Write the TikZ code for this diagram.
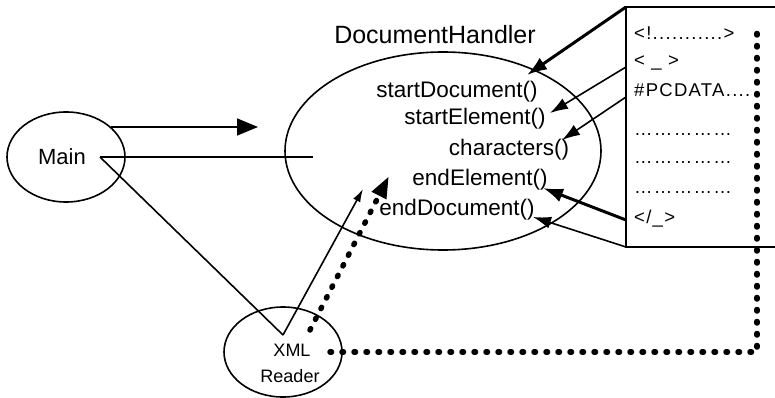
\documentclass[tikz,border=0pt]{standalone}
\usepackage{fontspec}
\setmainfont{Liberation Sans}
\newfontfamily\boxfont[LetterSpace=7]{Liberation Sans}
\usetikzlibrary{shapes.geometric,arrows.meta}

\begin{document}
\begin{tikzpicture}[x=1pt,y=-1pt,
  oval/.style={draw,ellipse,line width=1.6pt,inner sep=0pt},
  method/.style={font=\fontsize{22.5}{27}\selectfont,inner sep=0pt},
  entry/.style={font=\boxfont\fontsize{18.5}{22}\selectfont,anchor=west,inner sep=0pt},
  link/.style={line width=1.6pt},
  call/.style={link,-{Latex[length=18pt,width=12pt]}},
  bigcall/.style={-{Latex[length=20pt,width=14pt]},line width=3pt},
  dots/.style={line width=5.5pt,line cap=round,dash pattern=on 1.5pt off 10.5pt}]
  \useasboundingbox (0,0) rectangle (775,398);
  \node[oval,minimum width=118pt,minimum height=90pt] (main) at (66,157) {};
  \node[font=\fontsize{22}{26}\selectfont] (mainlabel) at (62,157) {Main};
  \node[oval,minimum width=316pt,minimum height=198pt] (handler) at (443,151) {};
  \node[font=\fontsize{25}{30}\selectfont] (handlerlabel) at (435,35) {DocumentHandler};
  \node[oval,minimum width=118pt,minimum height=90pt] (reader) at (283,352) {};
  \node[font=\fontsize{18}{21}\selectfont,inner sep=0pt] (xml) at (292,350) {XML};
  \node[font=\fontsize{18}{21}\selectfont,inner sep=0pt] (readerlabel) at (290,376) {Reader};
  \node[method] (startdoc) at (457,92) {startDocument()};
  \node[method] (startelem) at (475,119) {startElement()};
  \node[method] (chars) at (509,150) {characters()};
  \node[method] (endelem) at (480,180) {endElement()};
  \node[method] (enddoc) at (457,210) {endDocument()};
  \node[entry] (doctype) at (634,33) {<!...........>};
  \node[entry] (opentag) at (634,63) {< \_ >};
  \node[entry] (pcdata) at (634,90) {\#PCDATA....};
  \node[entry] (more1) at (634,135) {……………};
  \node[entry] (more2) at (634,163) {……………};
  \node[entry] (more3) at (634,193) {……………};
  \node[entry] (closetag) at (634,219) {</\_>};
  \coordinate (boxtl) at (626,7);
  \coordinate (boxtr) at (775,7);
  \coordinate (boxbl) at (626,247);
  \coordinate (boxbr) at (775,247);
  \coordinate (boxopen) at (626,67);
  \coordinate (boxtext) at (626,97);
  \coordinate (boxclose) at (626,220);
  \coordinate (tipstartdoc) at (527,75);
  \coordinate (tipstartelem) at (550,113);
  \coordinate (tipchars) at (562,140);
  \coordinate (tipendelem) at (543,188);
  \coordinate (tipenddoc) at (533,217);
  \coordinate (mainout) at (111,127);
  \coordinate (mainarrow) at (258,127);
  \coordinate (maininner) at (100,157);
  \coordinate (handlerinner) at (313,157);
  \coordinate (readerin) at (283,335);
  \coordinate (readertip) at (363,189);
  \coordinate (readerfrom) at (310,330);
  \coordinate (readerpush) at (389,176);
  \coordinate (readerout) at (330,352);
  \coordinate (bend) at (757,352);
  \coordinate (boxtop) at (757,28);
  \draw[line width=1.8pt] (boxtr) -- (boxtl) -- (boxbl) -- (boxbr);
  \draw[bigcall] (boxtl) -- (tipstartdoc);
  \draw[call] (boxopen) -- (tipstartelem);
  \draw[call] (boxtext) -- (tipchars);
  \draw[bigcall] (boxclose) -- (tipendelem);
  \draw[call] (boxbl) -- (tipenddoc);
  \draw[link,-{Triangle[length=21pt,width=17pt]}] (mainout) -- (mainarrow);
  \draw[link] (maininner) -- (handlerinner);
  \draw[link] (maininner) -- (readerin);
  \draw[link,-{Latex[length=13pt,width=8pt]}] (readerin) -- (readertip);
  \draw[dots,-{Triangle[length=22pt,width=15pt]}] (readerfrom) -- (readerpush);
  \draw[dots] (readerout) -- (bend) -- (boxtop);
\end{tikzpicture}
\end{document}
